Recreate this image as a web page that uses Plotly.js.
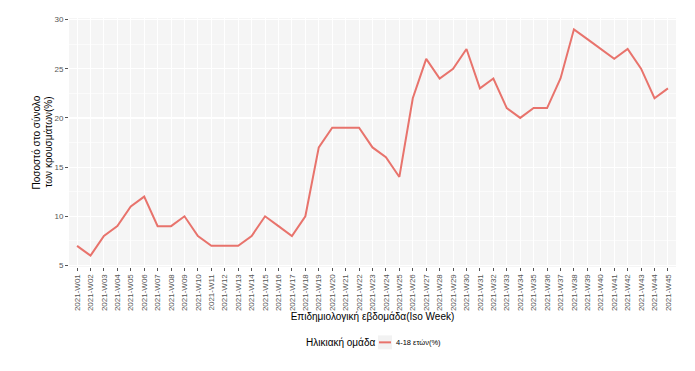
<!DOCTYPE html>
<html>
<head>
<meta charset="utf-8">
<script src="https://cdn.plot.ly/plotly-3.0.1.min.js"></script>
<style>html,body{margin:0;padding:0;background:#fff;}#chart{width:695px;height:371px;}</style>
</head>
<body>
<div id="chart"></div>
<script>
const weeks = ["2021-W01","2021-W02","2021-W03","2021-W04","2021-W05","2021-W06","2021-W07","2021-W08","2021-W09","2021-W10",
"2021-W11","2021-W12","2021-W13","2021-W14","2021-W15","2021-W16","2021-W17","2021-W18","2021-W19","2021-W20",
"2021-W21","2021-W22","2021-W23","2021-W24","2021-W25","2021-W26","2021-W27","2021-W28","2021-W29","2021-W30",
"2021-W31","2021-W32","2021-W33","2021-W34","2021-W35","2021-W36","2021-W37","2021-W38","2021-W39","2021-W40",
"2021-W41","2021-W42","2021-W43","2021-W44","2021-W45"];
const pct_4_18 = [7,6,8,9,11,12,9,9,10,8,
7,7,7,8,10,9,8,10,17,19,
19,19,17,16,14,22,26,24,25,27,
23,24,21,20,21,21,24,29,28,27,
26,27,25,22,23];
const seriesName = "4-18 ετών(%)";
const legendTitle = "Ηλικιακή ομάδα";
const yTitleLines = ["Ποσοστό στο σύνολο", "των κρουσμάτων(%)"];
const yTicks = [5,10,15,20,25,30];

const W = 695, H = 371, L = 69, R = 19, T = 18, B = 103.5;
const pw = W - L - R, ph = H - T - B;
const px = v => (v - L) / pw;          // pixel x -> paper x
const py = v => (H - B - v) / ph;      // pixel y -> paper y
const lineColor = '#E8736C';

const trace = {
  x: weeks, y: pct_4_18, type: 'scatter', mode: 'lines', name: seriesName,
  line: {color: lineColor, width: 2}, showlegend: false
};
const layout = {
  width: W, height: H,
  margin: {l: L, r: R, t: T, b: B},
  paper_bgcolor: '#ffffff', plot_bgcolor: '#F5F5F5',
  font: {family: 'Liberation Sans, Arial, sans-serif', color: '#000'},
  showlegend: false,
  xaxis: {
    type: 'category', range: [-0.6, 44.6], automargin: false,
    tickangle: -90, tickfont: {size: 8, color: '#555'},
    ticks: 'outside', ticklen: 3, tickcolor: '#555', tickwidth: 1,
    showgrid: true, gridcolor: '#ffffff', gridwidth: 1, zeroline: false, showline: false,
    title: {text: 'Επιδημιολογική εβδομάδα(Iso Week)', font: {size: 10, color: '#000'}, standoff: 0}
  },
  yaxis: {
    range: [4.85, 30.15], tickvals: yTicks, ticktext: yTicks.map(String), automargin: false,
    tickfont: {size: 8, color: '#555'},
    ticks: 'outside', ticklen: 3, tickcolor: '#555', tickwidth: 1,
    showgrid: true, gridcolor: '#ffffff', gridwidth: 1.2, zeroline: false, showline: false,
    minor: {tickvals: [7.5,12.5,17.5,22.5,27.5], showgrid: true, gridcolor: '#ffffff', gridwidth: 0.6, ticks: ''}
  },
  annotations: [
    {xref: 'paper', yref: 'paper', x: px(36), y: 0.5, text: yTitleLines[0], textangle: -90, showarrow: false,
     xanchor: 'center', yanchor: 'middle', font: {size: 10, color: '#000'}},
    {xref: 'paper', yref: 'paper', x: px(48), y: 0.5, text: yTitleLines[1], textangle: -90, showarrow: false,
     xanchor: 'center', yanchor: 'middle', font: {size: 10, color: '#000'}},
    {xref: 'paper', yref: 'paper', x: px(304), y: py(343), text: legendTitle, showarrow: false,
     xanchor: 'left', yanchor: 'middle', font: {size: 10, color: '#000'}},
    {xref: 'paper', yref: 'paper', x: px(394), y: py(343), text: seriesName, showarrow: false,
     xanchor: 'left', yanchor: 'middle', font: {size: 7.5, color: '#000'}}
  ],
  shapes: [
    {type: 'rect', xref: 'paper', yref: 'paper', x0: px(378), x1: px(392), y0: py(336), y1: py(350),
     fillcolor: '#F2F2F2', line: {width: 0}},
    {type: 'line', xref: 'paper', yref: 'paper', x0: px(379), x1: px(391), y0: py(343), y1: py(343),
     line: {color: lineColor, width: 2}}
  ]
};
Plotly.newPlot('chart', [trace], layout, {displayModeBar: false, staticPlot: true});
</script>
</body>
</html>
